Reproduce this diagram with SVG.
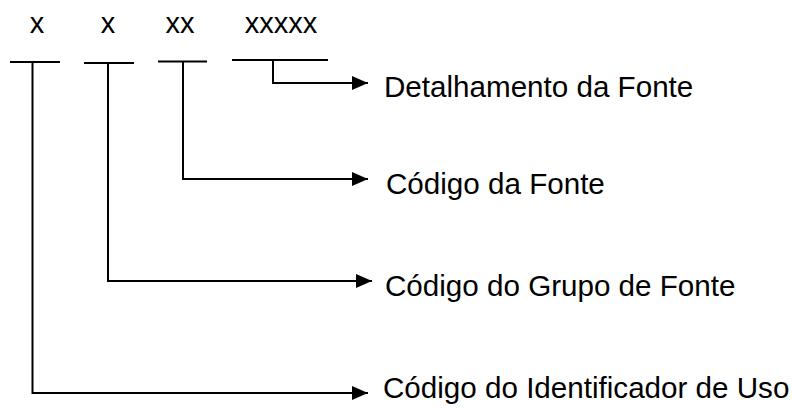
<svg xmlns="http://www.w3.org/2000/svg" width="792" height="409" viewBox="0 0 792 409">
<defs>
<style>
.t{font-family:"Liberation Sans",Arial,sans-serif;font-size:29px;fill:#000}
.l{font-size:29.6px}
.ln{fill:none;stroke:#000;stroke-width:2}
</style>
<marker id="ah" viewBox="0 0 16 14" refX="16" refY="7" markerWidth="16" markerHeight="14" markerUnits="userSpaceOnUse" orient="auto">
<path d="M0,0 L16,7 L0,14 Z" fill="#000"/>
</marker>
</defs>
<rect width="792" height="409" fill="#fff"/>
<g id="field1">
<text class="t" x="37" y="33" text-anchor="middle">x</text>
<line class="ln" x1="10" y1="62" x2="60" y2="62"/>
</g>
<g id="field2">
<text class="t" x="108" y="33" text-anchor="middle">x</text>
<line class="ln" x1="84" y1="63" x2="134" y2="63"/>
</g>
<g id="field3">
<text class="t" x="180" y="33" text-anchor="middle">xx</text>
<line class="ln" x1="158" y1="61.5" x2="207" y2="61.5"/>
</g>
<g id="field4">
<text class="t" x="281" y="33" text-anchor="middle">xxxxx</text>
<line class="ln" x1="232" y1="60" x2="328" y2="60"/>
</g>
<g id="label-detalhamento"><text class="t l" x="384" y="97">Detalhamento da Fonte</text></g>
<g id="label-codigo-fonte"><text class="t l" x="386" y="194">Código da Fonte</text></g>
<g id="label-grupo"><text class="t l" x="385" y="296">Código do Grupo de Fonte</text></g>
<g id="label-identificador"><text class="t l" x="383" y="398">Código do Identificador de Uso</text></g>
<g id="connectors">
<polyline class="ln" points="273,60 273,83 368,83" marker-end="url(#ah)"/>
<polyline class="ln" points="183,61.5 183,179 368,179" marker-end="url(#ah)"/>
<polyline class="ln" points="108,63 108,281 372,281" marker-end="url(#ah)"/>
<polyline class="ln" points="32.5,62 32.5,393 368,393" marker-end="url(#ah)"/>
</g>
</svg>
